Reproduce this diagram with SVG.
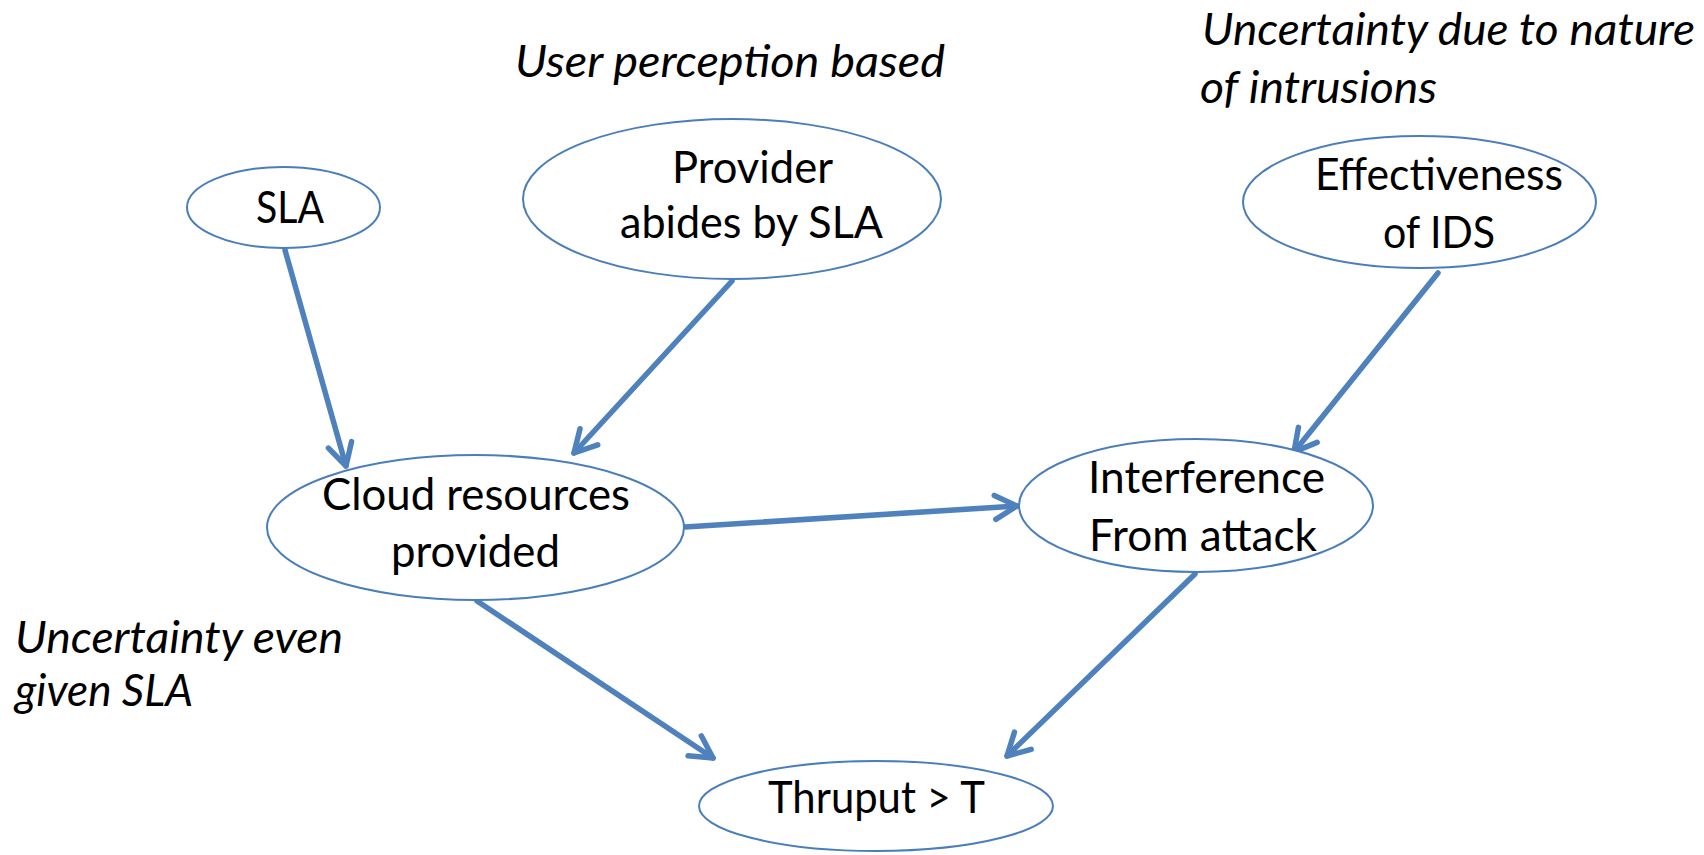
<svg xmlns="http://www.w3.org/2000/svg" width="1704" height="855" viewBox="0 0 1704 855">
<style>
.node{fill:#ffffff;stroke:#4a7ebb;stroke-width:2}
.lbl{font-family:Lato,"Open Sans","Liberation Sans",sans-serif;font-size:45px;fill:#000}
.note{font-family:Lato,"Open Sans","Liberation Sans",sans-serif;font-size:45px;font-style:italic;fill:#000}
.edge{stroke:#4f81bd;stroke-width:5.5;fill:none;stroke-linecap:round;marker-end:url(#arr)}
</style>
<defs>
<marker id="arr" markerUnits="userSpaceOnUse" viewBox="-30 -16 36 32" markerWidth="36" markerHeight="32" refX="0" refY="0" orient="auto">
<path d="M-22,-12 L0,0 L-22,12" fill="none" stroke="#4f81bd" stroke-width="5.5" stroke-linecap="round" stroke-linejoin="round"/>
</marker>
</defs>
<rect width="1704" height="855" fill="#ffffff"/>
<g id="notes">
<text class="note" x="515" y="77" textLength="430" lengthAdjust="spacingAndGlyphs">User perception based</text>
<text class="note" x="1202" y="45" textLength="493" lengthAdjust="spacingAndGlyphs">Uncertainty due to nature</text>
<text class="note" x="1200" y="103" textLength="237" lengthAdjust="spacingAndGlyphs">of intrusions</text>
<text class="note" x="15" y="653" textLength="328" lengthAdjust="spacingAndGlyphs">Uncertainty even</text>
<text class="note" x="15" y="706" textLength="178" lengthAdjust="spacingAndGlyphs">given SLA</text>
</g>
<g id="connectors">
<line class="edge" x1="285" y1="250" x2="346" y2="466"/>
<line class="edge" x1="732" y1="281" x2="574" y2="453"/>
<line class="edge" x1="685" y1="527" x2="1017" y2="506"/>
<line class="edge" x1="1438" y1="273" x2="1294" y2="452"/>
<line class="edge" x1="477" y1="601" x2="713" y2="758"/>
<line class="edge" x1="1195" y1="574" x2="1007" y2="756"/>
</g>
<g id="node-sla">
<ellipse class="node" cx="283.5" cy="207.5" rx="96.5" ry="40.5"/>
<text class="lbl" x="256" y="223" textLength="68" lengthAdjust="spacingAndGlyphs">SLA</text>
</g>
<g id="node-provider">
<ellipse class="node" cx="732" cy="199" rx="209" ry="80"/>
<text class="lbl" x="672" y="183" textLength="161" lengthAdjust="spacingAndGlyphs">Provider</text>
<text class="lbl" x="620" y="238" textLength="263" lengthAdjust="spacingAndGlyphs">abides by SLA</text>
</g>
<g id="node-ids">
<ellipse class="node" cx="1419.5" cy="202" rx="176.5" ry="66"/>
<text class="lbl" x="1315" y="190" textLength="248" lengthAdjust="spacingAndGlyphs">Effectiveness</text>
<text class="lbl" x="1383" y="248" textLength="112" lengthAdjust="spacingAndGlyphs">of IDS</text>
</g>
<g id="node-cloud">
<ellipse class="node" cx="475.5" cy="527.5" rx="208.5" ry="72.5"/>
<text class="lbl" x="322" y="510" textLength="308" lengthAdjust="spacingAndGlyphs">Cloud resources</text>
<text class="lbl" x="391" y="567" textLength="169" lengthAdjust="spacingAndGlyphs">provided</text>
</g>
<g id="node-interference">
<ellipse class="node" cx="1196" cy="505.5" rx="177" ry="66.5"/>
<text class="lbl" x="1088" y="493" textLength="237" lengthAdjust="spacingAndGlyphs">Interference</text>
<text class="lbl" x="1089" y="551" textLength="228" lengthAdjust="spacingAndGlyphs">From attack</text>
</g>
<g id="node-thruput">
<ellipse class="node" cx="876" cy="806" rx="177" ry="45"/>
<text class="lbl" x="768" y="813" textLength="217" lengthAdjust="spacingAndGlyphs">Thruput &gt; T</text>
</g>
</svg>
